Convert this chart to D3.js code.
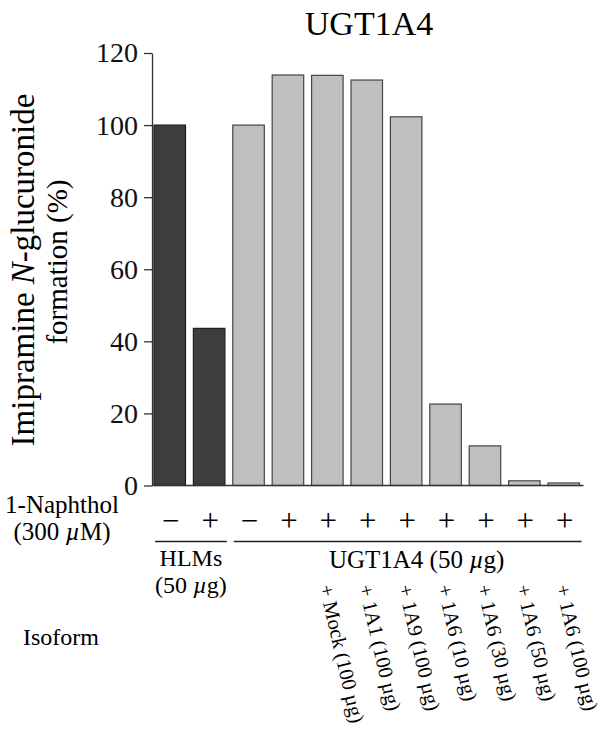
<!DOCTYPE html>
<html>
<head>
<meta charset="utf-8">
<script src="https://cdn.jsdelivr.net/npm/d3@7"></script>
<style>
  body { margin: 0; background: #fff; }
  svg { font-family: "Liberation Serif", "Times New Roman", serif; }
</style>
</head>
<body>
<svg id="chart"></svg>
<script>
// Data
const naphthol = ['−', '+', '−', '+', '+', '+', '+', '+', '+', '+', '+'];
const formation = [100, 43.6, 100, 113.9, 113.8, 112.5, 102.3, 22.6, 11.0, 1.3, 0.7];
const source = ['HLMs', 'HLMs', 'UGT1A4', 'UGT1A4', 'UGT1A4', 'UGT1A4', 'UGT1A4', 'UGT1A4', 'UGT1A4', 'UGT1A4', 'UGT1A4'];
const isoforms = ['', '', '', '', 'Mock (100 µg)', '1A1 (100 µg)', '1A9 (100 µg)',
  '1A6 (10 µg)', '1A6 (30 µg)', '1A6 (50 µg)', '1A6 (100 µg)'];
const yTicks = [0, 20, 40, 60, 80, 100, 120];

const width = 604, height = 731;
const fillFor = { HLMs: '#3d3d3d', UGT1A4: '#bfbfbf' };
const strokeFor = { HLMs: '#1e1e1e', UGT1A4: '#444' };

const svg = d3.select('#chart').attr('width', width).attr('height', height);

const idx = d3.range(formation.length);
const x = d3.scaleBand().domain(idx).range([152, 581.5]).paddingInner(0.2).paddingOuter(0.05);
const y = d3.scaleLinear().domain([0, 120]).range([485.5, 53]);
const bw = x.bandwidth();

// title
svg.append('text')
  .attr('x', 369).attr('y', 35)
  .attr('text-anchor', 'middle')
  .style('font-size', '34px')
  .text('UGT1A4');

// y axis
const yAxis = svg.append('g')
  .attr('transform', 'translate(152,0)')
  .call(d3.axisLeft(y).tickValues(yTicks).tickSize(8).tickSizeOuter(0).tickPadding(6));
yAxis.select('.domain').attr('stroke', '#333').attr('stroke-width', 1.3);
yAxis.selectAll('.tick line').attr('stroke', '#333').attr('stroke-width', 1.3);
yAxis.selectAll('.tick text')
  .attr('fill', '#111')
  .style('font-family', '"Liberation Serif", "Times New Roman", serif')
  .style('font-size', '28px');

// y label
const ylab = svg.append('text')
  .attr('transform', 'translate(34,270) rotate(-90)')
  .attr('text-anchor', 'middle')
  .style('font-size', '33px');
ylab.append('tspan').text('Imipramine ');
ylab.append('tspan').style('font-style', 'italic').text('N');
ylab.append('tspan').text('-glucuronide');
svg.append('text')
  .attr('transform', 'translate(67,262) rotate(-90)')
  .attr('text-anchor', 'middle')
  .style('font-size', '29px')
  .text('formation (%)');

// bars
svg.append('g').selectAll('rect')
  .data(idx)
  .join('rect')
  .attr('x', i => x(i))
  .attr('y', i => y(formation[i]))
  .attr('width', bw)
  .attr('height', i => y(0) - y(formation[i]))
  .attr('fill', i => fillFor[source[i]])
  .attr('stroke', i => strokeFor[source[i]])
  .attr('stroke-width', 1.2);

// x axis baseline
svg.append('line')
  .attr('x1', 152).attr('x2', x(idx[idx.length - 1]) + bw + 4)
  .attr('y1', y(0)).attr('y2', y(0))
  .attr('stroke', '#333').attr('stroke-width', 1.3);

// 1-Naphthol row
svg.append('text').attr('x', 62).attr('y', 513).attr('text-anchor', 'middle')
  .style('font-size', '25px').text('1-Naphthol');
const nap = svg.append('text').attr('x', 62).attr('y', 540).attr('text-anchor', 'middle')
  .style('font-size', '25px');
nap.append('tspan').text('(300 ');
nap.append('tspan').style('font-style', 'italic').text('µ');
nap.append('tspan').text('M)');

svg.append('g').selectAll('text')
  .data(idx)
  .join('text')
  .attr('x', i => x(i) + bw / 2 + 1)
  .attr('y', 531)
  .attr('text-anchor', 'middle')
  .style('font-size', '31px')
  .text(i => naphthol[i]);

// source group lines and labels
const groups = d3.groups(idx, i => source[i]);
groups.forEach(([name, members]) => {
  const x0 = x(members[0]) + 1;
  const x1 = x(members[members.length - 1]) + bw + 2;
  svg.append('line')
    .attr('x1', x0).attr('x2', x1)
    .attr('y1', 541.5).attr('y2', 541.5)
    .attr('stroke', '#222').attr('stroke-width', 1.6);
  if (name === 'HLMs') {
    svg.append('text').attr('x', (x0 + x1) / 2).attr('y', 566).attr('text-anchor', 'middle')
      .style('font-size', '24px').text('HLMs');
    const t = svg.append('text').attr('x', (x0 + x1) / 2).attr('y', 593).attr('text-anchor', 'middle')
      .style('font-size', '24px');
    t.append('tspan').text('(50 ');
    t.append('tspan').style('font-style', 'italic').text('µ');
    t.append('tspan').text('g)');
  } else {
    const t = svg.append('text').attr('x', (x0 + x1) / 2 + 9).attr('y', 568).attr('text-anchor', 'middle')
      .style('font-size', '25px');
    t.append('tspan').text(name + ' (50 ');
    t.append('tspan').style('font-style', 'italic').text('µ');
    t.append('tspan').text('g)');
  }
});

// isoform row
svg.append('text').attr('x', 61).attr('y', 645).attr('text-anchor', 'middle')
  .style('font-size', '24px').text('Isoform');

svg.append('g').selectAll('text')
  .data(idx.filter(i => isoforms[i]))
  .join('text')
  .attr('transform', i => `translate(${x(i) + bw / 2 - 1},585) rotate(77)`)
  .attr('dy', '0.35em')
  .style('font-size', '20.5px')
  .text(i => '+ ' + isoforms[i]);
</script>
</body>
</html>
